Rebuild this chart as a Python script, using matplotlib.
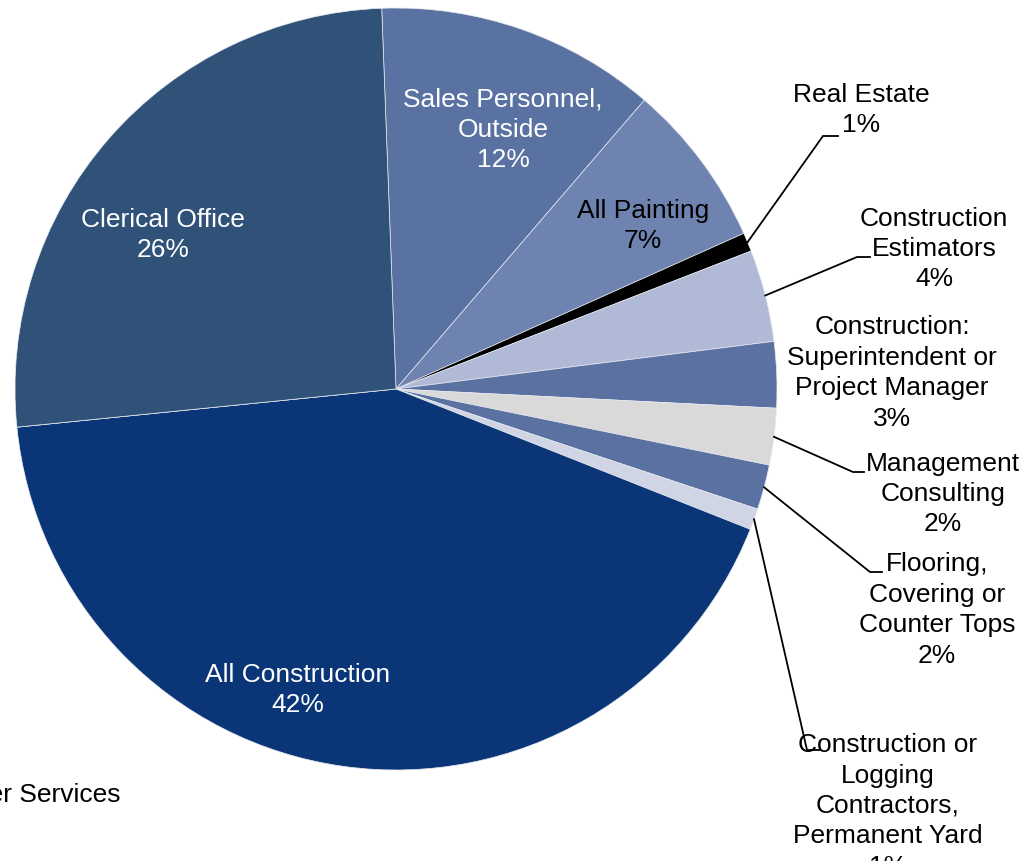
import numpy as np
import matplotlib.pyplot as plt

plt.rcParams['font.family'] = ['Liberation Sans', 'DejaVu Sans']

# slice data, clockwise from the top
names = ["Sales Personnel,\nOutside", "All Painting", "Real Estate",
         "Construction\nEstimators", "Construction:\nSuperintendent or\nProject Manager",
         "Management\nConsulting", "Flooring,\nCovering or\nCounter Tops",
         "Construction or\nLogging\nContractors,\nPermanent Yard",
         "All Construction", "Other Services", "Clerical Office"]
shares = [11.9, 7.0, 0.8, 3.9, 2.8, 2.4, 1.9, 0.9, 42.4, 0.0, 26.0]
colors = ["#5A72A2", "#6F83B1", "#000000", "#B0B9D6", "#5A71A1", "#D9D9D9",
          "#5A71A1", "#D0D5E6", "#0A3577", "#FFFFFF", "#305278"]
text_colors = ["white", "black", "black", "black", "black", "black",
               "black", "black", "white", "black", "white"]

# layout in pixels of the 1036x861 image
W, H = 1036, 861
CX, CY, R = 396, 389, 381


def px(x, y):
    return (x - CX) / R, (CY - y) / R


label_px = [(503, 130), (643, 226), (861, 110), (934, 249), (892, 373),
            (943, 494), (937, 610), (888, 806), (298, 690), (121, 795), (163, 235)]
# leader lines: index -> (elbow, end)
leaders = {2: ((823, 136), (838, 136)),
           3: ((857, 257), (870, 257)),
           5: ((853, 472), (864, 472)),
           6: ((870, 572), (882, 572)),
           7: ((807, 750), (820, 750))}

fig = plt.figure(figsize=(W / 100, H / 100), dpi=100)
ax = fig.add_axes([0, 0, 1, 1])

wedges, _ = ax.pie(shares, colors=colors, startangle=92.15, counterclock=False,
                   radius=1, wedgeprops=dict(edgecolor="#E6E9F0", linewidth=0.5))

for i, (name, v) in enumerate(zip(names, shares)):
    x, y = px(*label_px[i])
    if v == 0:
        ax.text(x, y, name, ha="right", va="center", fontsize=19, color="black")
        continue
    txt = f"{name}\n{v:.0f}%"
    ax.text(x, y, txt, ha="center", va="center", multialignment="center",
            fontsize=19, color=text_colors[i], linespacing=1.34)

for i, (elbow, end) in leaders.items():
    w = wedges[i]
    mid = np.deg2rad((w.theta1 + w.theta2) / 2)
    ex, ey = px(*elbow)
    nx, ny = px(*end)
    ax.plot([np.cos(mid), ex, nx], [np.sin(mid), ey, ny], color="black", lw=1.3,
            solid_joinstyle="miter")

ax.set_xlim(-CX / R, (W - CX) / R)
ax.set_ylim(-(H - CY) / R, CY / R)
ax.set_aspect("auto")
ax.axis("off")

fig.savefig("out.png", dpi=100, facecolor="white")
